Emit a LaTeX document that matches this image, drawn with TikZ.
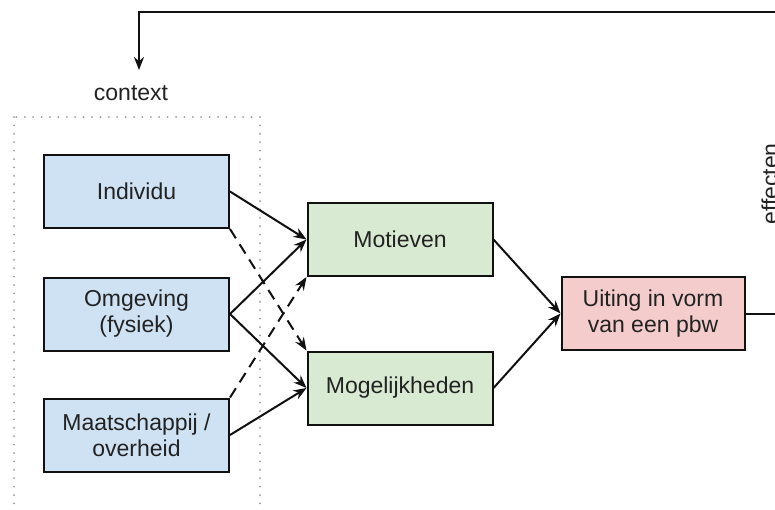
\documentclass[tikz,border=0pt]{standalone}
\usepackage{fontspec}
\setmainfont{Liberation Sans}
\usetikzlibrary{arrows.meta}
\definecolor{boxblue}{HTML}{CFE2F3}
\definecolor{boxgreen}{HTML}{D9EAD3}
\definecolor{boxred}{HTML}{F4CCCC}
\definecolor{linecol}{HTML}{111111}
\definecolor{textcol}{HTML}{222222}
\tikzset{
  box/.style={draw=linecol, line width=2pt, rectangle, minimum width=185pt, minimum height=73pt,
    align=center, inner sep=0pt, text=textcol, font=\fontsize{23}{26}\selectfont},
  bluebox/.style={box, fill=boxblue},
  greenbox/.style={box, fill=boxgreen},
  redbox/.style={box, fill=boxred},
  conn/.style={draw=linecol, line width=2pt, -{Stealth[length=13pt,width=10pt]}},
  dconn/.style={conn, dash pattern=on 11pt off 7pt},
  dotbox/.style={draw=gray!80, line width=2pt, line cap=round, dash pattern=on 0pt off 8.4pt},
  lbl/.style={text=textcol, font=\fontsize{23}{26}\selectfont, inner sep=0pt}
}
\begin{document}
\begin{tikzpicture}[x=1pt,y=-1pt]
\useasboundingbox (0,0) rectangle (775,509);
\clip (0,0) rectangle (775,509);
\fill[white] (0,0) rectangle (775,509);
% context region
\draw[dotbox] (14,117) rectangle (260,540);
\node[lbl] (ctxlabel) at (131,93) {context};
% nodes
\node[bluebox] (ind) at (136.5,191.5) {Individu};
\node[bluebox] (omg) at (136.5,314) {Omgeving\\(fysiek)};
\node[bluebox] (maa) at (136.5,435) {Maatschappij /\\overheid};
\node[greenbox] (mot) at (400,239.5) {Motieven};
\node[greenbox] (mog) at (400,388) {Mogelijkheden};
\node[redbox, minimum width=183pt] (uit) at (653,313.5) {Uiting in vorm\\van een pbw};
\node[lbl, rotate=90, anchor=base] (eff) at (778,184) {effecten};
% feedback coordinates
\coordinate (fbR) at (800,313.5);
\coordinate (corner) at (139,12);
\coordinate (ctxarrow) at (139,70);
% connectors
\draw[conn] (ind.east) -- (mot.west);
\draw[dconn] (ind.south east) -- (mog.north west);
\draw[conn] (omg.east) -- (mot.west);
\draw[conn] (omg.east) -- (mog.west);
\draw[dconn] (maa.north east) -- (mot.south west);
\draw[conn] (maa.east) -- (mog.west);
\draw[conn] (mot.east) -- (uit.west);
\draw[conn] (mog.east) -- (uit.west);
\draw[conn] (uit.east) -- (fbR) |- (corner) -- (ctxarrow);
\end{tikzpicture}
\end{document}
